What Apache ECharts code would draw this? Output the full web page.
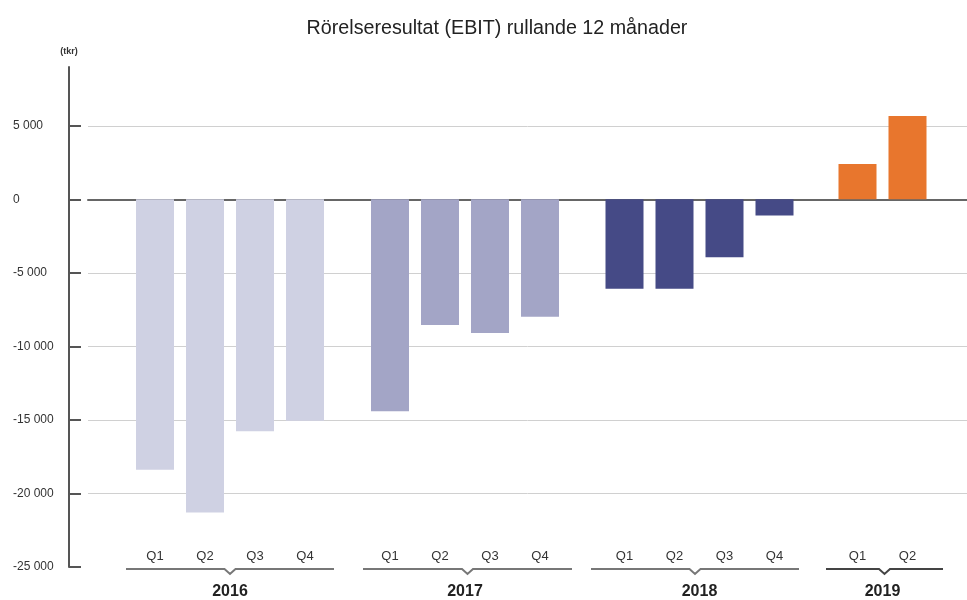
<!DOCTYPE html>
<html>
<head>
<meta charset="utf-8">
<script src="https://cdn.jsdelivr.net/npm/echarts@6/dist/echarts.min.js"></script>
<style>
	html,body{margin:0;padding:0;background:#fff;}
	#chart{width:967px;height:600px;}
</style>
</head>
<body>
<div id="chart"></div>
<script>
	// data (tkr)
	var years = ['2016', '2017', '2018', '2019'];
	var quarters = [
		['Q1', 'Q2', 'Q3', 'Q4'],
		['Q1', 'Q2', 'Q3', 'Q4'],
		['Q1', 'Q2', 'Q3', 'Q4'],
		['Q1', 'Q2']
	];
	var ebit2016 = [-18380, -21300, -15770, -15050];
	var ebit2017 = [-14410, -8540, -9090, -7990];
	var ebit2018 = [-6080, -6080, -3930, -1090];
	var ebit2019 = [2410, 5660];
	var yMin = -25000, yMax = 9000, yStep = 5000;

	// layout
	var barColors = ['#cfd1e3', '#a3a5c6', '#454a86', '#e8762d'];
	var groupLeft = [130, 365, 599.5, 832.5];
	var band = 50;
	var bracketSpan = [[126, 334], [363, 572], [591, 799], [826, 943]];
	var bracketColor = ['#777', '#777', '#777', '#444'];
	var gridTop = 67, gridBottom = 33;
	var fontFam = '"Liberation Sans", Arial, Helvetica, sans-serif';
	var allData = [ebit2016, ebit2017, ebit2018, ebit2019];

	function fmt(v) {
		return String(v).replace(/\B(?=(\d{3})+(?!\d))/g, ' ');
	}

	var grids = [{left: 88, right: 0, top: gridTop, bottom: gridBottom, outerBoundsMode: 'none'}];
	var xAxes = [{
		type: 'value', gridIndex: 0, min: 0, max: 1,
		axisLine: {show: true, onZero: true, lineStyle: {color: '#666', width: 2}},
		axisTick: {show: false}, axisLabel: {show: false}, splitLine: {show: false}
	}];
	var yAxes = [{
		type: 'value', gridIndex: 0, min: yMin, max: yMax, interval: yStep,
		offset: 19,
		name: '(tkr)', nameGap: 11,
		nameTextStyle: {fontFamily: fontFam, fontSize: 9, fontWeight: 'bold', color: '#333'},
		axisLine: {show: true, onZero: false, lineStyle: {color: '#555', width: 2}},
		axisTick: {show: true, inside: true, length: 12, lineStyle: {color: '#555', width: 2}},
		axisLabel: {
			margin: 56, align: 'left', showMaxLabel: false,
			fontFamily: fontFam, fontSize: 12, color: '#333',
			formatter: function (v) { return v === yMax ? '' : fmt(v); }
		},
		splitLine: {show: true, showMinLine: false, showMaxLine: false, lineStyle: {color: '#d0d0d0', width: 1}}
	}];
	var series = [];
	var graphics = [];

	for (var i = 0; i < years.length; i++) {
		var n = quarters[i].length;
		grids.push({left: groupLeft[i], width: n * band, top: gridTop, bottom: gridBottom, outerBoundsMode: 'none'});
		xAxes.push({
			type: 'category', gridIndex: i + 1, data: quarters[i],
			name: years[i], nameLocation: 'middle', nameGap: 17,
			nameTextStyle: {fontFamily: fontFam, fontSize: 16, fontWeight: 'bold', color: '#222'},
			axisLine: {show: false}, axisTick: {show: false},
			axisLabel: {inside: true, margin: 4, fontFamily: fontFam, fontSize: 13, color: '#333'}
		});
		yAxes.push({type: 'value', gridIndex: i + 1, min: yMin, max: yMax, show: false});
		series.push({
			type: 'bar', xAxisIndex: i + 1, yAxisIndex: i + 1,
			data: allData[i], barWidth: 38,
			itemStyle: {color: barColors[i]},
			silent: true
		});
		var x0 = bracketSpan[i][0], x1 = bracketSpan[i][1], c = (x0 + x1) / 2;
		graphics.push({
			type: 'polyline',
			shape: {points: [[x0, 569], [c - 5.5, 569], [c, 574], [c + 5.5, 569], [x1, 569]]},
			style: {stroke: bracketColor[i], lineWidth: 2, fill: null}
		});
	}

	var chart = echarts.init(document.getElementById('chart'));
	chart.setOption({
		animation: false,
		title: {
			text: 'Rörelseresultat (EBIT) rullande 12 månader',
			left: 492, top: 14, textAlign: 'center',
			textStyle: {fontFamily: fontFam, fontSize: 19.7, fontWeight: 'normal', color: '#222'}
		},
		grid: grids,
		xAxis: xAxes,
		yAxis: yAxes,
		series: series,
		graphic: graphics
	});
</script>
</body>
</html>
